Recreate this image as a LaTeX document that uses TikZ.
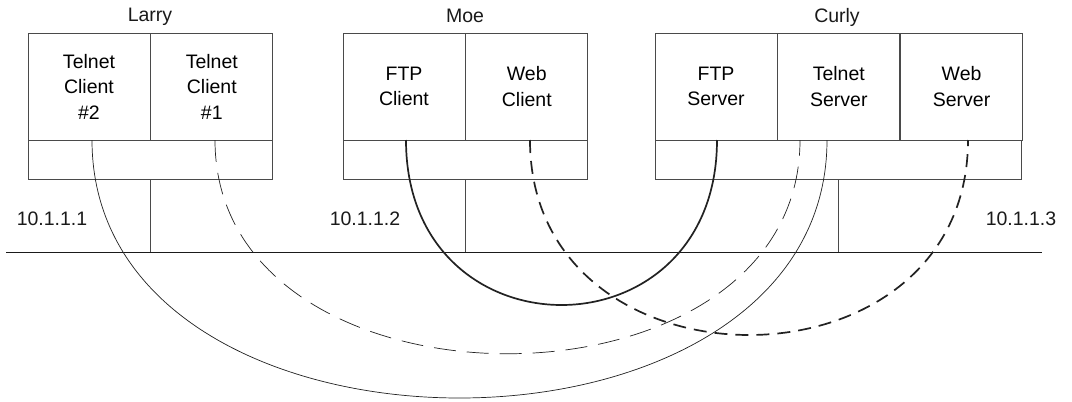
\documentclass[tikz,border=0pt]{standalone}
\usepackage{fontspec}
\setmainfont{Liberation Sans}
\usetikzlibrary{positioning}
\definecolor{hostEdge}{HTML}{4A4A4A}
\definecolor{netInk}{HTML}{1A1A1A}
\definecolor{linkInk}{HTML}{222222}

\begin{document}
\begin{tikzpicture}[x=1pt,y=-1pt,line cap=butt,line join=miter]
\path[fill=white,use as bounding box] (0,0) rectangle (1072,402);
\tikzset{app/.style={draw=hostEdge,line width=0.8pt,minimum width=122pt,minimum height=107pt,inner sep=0pt,align=center,font=\fontsize{19.5}{25.5}\selectfont},
  stack/.style={draw=hostEdge,line width=0.8pt,minimum height=39pt,inner sep=0pt},
  lbl/.style={font=\fontsize{19.5}{22}\selectfont,text=netInk},
  thinlink/.style={draw=linkInk,line width=0.7pt},
  thicklink/.style={draw=linkInk,line width=1.7pt}}
% Larry
\node[app] (tc2) at (89,86.5) {Telnet\\Client\\\#2};
\node[app,right=0pt of tc2] (tc1) {Telnet\\Client\\\#1};
\node[stack,minimum width=244pt,anchor=north west] (larrybus) at (tc2.south west) {};
\node[lbl] (larry) at (150,17) {Larry};
\node[lbl] (ip1) at (52,219) {10.1.1.1};
% Moe
\node[app] (ftpc) at (404,86.5) {FTP\\Client};
\node[app,right=0pt of ftpc] (webc) {Web\\Client};
\node[stack,minimum width=244pt,anchor=north west] (moebus) at (ftpc.south west) {};
\node[lbl] (moe) at (465,16) {Moe};
\node[lbl] (ip2) at (365,219) {10.1.1.2};
% Curly
\node[app] (ftps) at (716,86.5) {FTP\\Server};
\node[app,right=0pt of ftps] (tels) {Telnet\\Server};
\node[app,right=0pt of tels] (webs) {Web\\Server};
\node[stack,minimum width=366pt,anchor=north west] (curlybus) at (ftps.south west) {};
\node[lbl] (curly) at (837,17) {Curly};
\node[lbl] (ip3) at (1021,219) {10.1.1.3};
% network
\coordinate (netL) at (6,252); \coordinate (netR) at (1042,252);
\draw[draw=netInk,line width=1pt] (netL) -- (netR);
\draw[draw=hostEdge,line width=0.8pt] (larrybus.south) -- (larrybus.south |- netL);
\draw[draw=hostEdge,line width=0.8pt] (moebus.south) -- (moebus.south |- netL);
\draw[draw=hostEdge,line width=0.8pt] (curlybus.south) -- (curlybus.south |- netL);
% connections
\coordinate (c2) at (92,140); \coordinate (c1) at (215,140);
\coordinate (fc) at (406,140); \coordinate (wc) at (530,140);
\coordinate (fs) at (717,140); \coordinate (tsA) at (800,140);
\coordinate (tsB) at (827,140); \coordinate (ws) at (968,140);
\draw[thinlink] (c2) .. controls +(0,344) and +(0,344) .. (tsB);
\draw[thinlink,dash pattern=on 22pt off 11pt] (c1) .. controls +(0,285) and +(0,285) .. (tsA);
\draw[thicklink] (fc) .. controls +(0,220) and +(0,220) .. (fs);
\draw[thicklink,dash pattern=on 13pt off 8pt] (wc) .. controls +(0,260) and +(0,260) .. (ws);
\end{tikzpicture}
\end{document}
